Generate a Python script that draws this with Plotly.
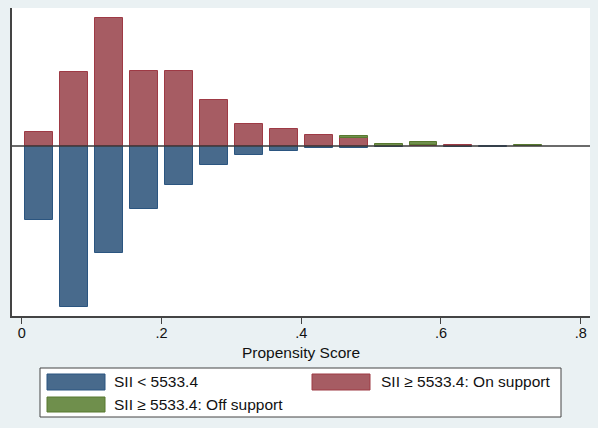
import plotly.graph_objects as go

# ---- data ----
bin_centers = [0.025, 0.075, 0.125, 0.175, 0.225, 0.275, 0.325, 0.375,
               0.425, 0.475, 0.525, 0.575, 0.625, 0.675, 0.725]
treated_on = [14.3, 73.7, 128, 75.3, 74.7, 45.7, 21.7, 17, 10.7, 8.3,
              None, 1.0, 0.8, None, None]
treated_off = [None, None, None, None, None, None, None, None, None, 1.7,
               2.0, 3.0, None, None, 0.8]
untreated = [73.7, 160.7, 106.7, 62.7, 39.3, 18.7, 9.3, 4.7, 2.3, 1.7,
             1.0, None, 0.5, 1.0, None]
tick_vals = [0, 0.2, 0.4, 0.6, 0.8]
tick_text = ["0", ".2", ".4", ".6", ".8"]
names = ["SII < 5533.4", "SII \u2265 5533.4: On support", "SII \u2265 5533.4: Off support"]

BLUE, BLUE_L = "#486a8c", "#2b5580"
RED, RED_L = "#a65c63", "#9e3a45"
GREEN, GREEN_L = "#6f8f4c", "#58792f"
FONT = "Liberation Sans, Arial, sans-serif"
BG = "#eaf1f3"

W, H = 598, 428
ML, MR, MT, MB = 12, 8, 8, 112
PW, PH = W - ML - MR, H - MT - MB


def px_x(x):
    return (x - ML) / PW


def px_y(y):
    return (H - MB - y) / PH


neg_untreated = [(-v if v is not None else None) for v in untreated]

fig = go.Figure()
fig.add_trace(go.Bar(x=bin_centers, y=neg_untreated, width=0.04, name=names[0],
                     marker=dict(color=BLUE, line=dict(color=BLUE_L, width=1)),
                     showlegend=False))
fig.add_trace(go.Bar(x=bin_centers, y=treated_on, width=0.04, name=names[1],
                     marker=dict(color=RED, line=dict(color=RED_L, width=1)),
                     showlegend=False))
fig.add_trace(go.Bar(x=bin_centers, y=treated_off, width=0.04, name=names[2],
                     marker=dict(color=GREEN, line=dict(color=GREEN_L, width=1)),
                     showlegend=False))

shapes = [dict(type="line", xref="paper", yref="y", x0=0, x1=1, y0=0, y1=0,
               line=dict(color="#3a3a3a", width=1.5), layer="above")]
annotations = []

# legend box
shapes.append(dict(type="rect", xref="paper", yref="paper",
                   x0=px_x(40), x1=px_x(561), y0=px_y(417), y1=px_y(368),
                   fillcolor="white", line=dict(color="#444444", width=1)))
legend_items = [
    (names[0], BLUE, BLUE_L, 47, 105, 374, 390, 112),
    (names[1], RED, RED_L, 312, 370, 374, 390, 379),
    (names[2], GREEN, GREEN_L, 47, 105, 397, 412, 112),
]
for txt, fc, lc, x0, x1, y0, y1, tx in legend_items:
    shapes.append(dict(type="rect", xref="paper", yref="paper",
                       x0=px_x(x0), x1=px_x(x1), y0=px_y(y1), y1=px_y(y0),
                       fillcolor=fc, line=dict(color=lc, width=1)))
    annotations.append(dict(xref="paper", yref="paper", x=px_x(tx), y=px_y((y0 + y1) / 2),
                            text=txt, showarrow=False, xanchor="left", yanchor="middle",
                            font=dict(family=FONT, size=15.5, color="#111111")))

annotations.append(dict(xref="paper", yref="paper", x=px_x(301), y=px_y(352),
                        text="Propensity Score", showarrow=False,
                        xanchor="center", yanchor="middle",
                        font=dict(family=FONT, size=15.5, color="#111111")))

x0_px = 21.7
unit = 698.75
xr = [(ML - x0_px) / unit, (W - MR - x0_px) / unit]

fig.update_layout(
    width=W, height=H,
    margin=dict(l=ML, r=MR, t=MT, b=MB, pad=0),
    paper_bgcolor=BG,
    plot_bgcolor="white",
    barmode="relative",
    bargap=0,
    shapes=shapes,
    annotations=annotations,
    font=dict(family=FONT, color="#111111"),
    xaxis=dict(range=xr, tickvals=tick_vals, ticktext=tick_text,
               ticks="outside", ticklen=6, tickwidth=1.2, tickcolor="#444444",
               ticklabelstandoff=-3,
               showline=True, linecolor="#444444", linewidth=1.5,
               showgrid=False, zeroline=False,
               tickfont=dict(family=FONT, size=14.5, color="#111111")),
    yaxis=dict(range=[-170, 138], showline=True, linecolor="#444444", linewidth=1.5,
               showticklabels=False, ticks="", showgrid=False, zeroline=False),
)

fig.write_html("out.html",
               config={"displayModeBar": False},
               post_script="document.body.style.margin='0';"
                           "document.body.style.overflow='hidden';"
                           "document.body.style.background='" + BG + "';")
